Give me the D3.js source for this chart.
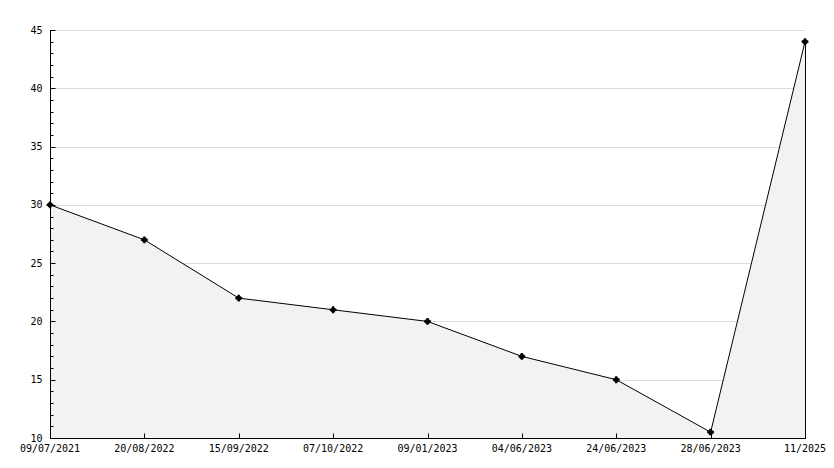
<!DOCTYPE html>
<html>
<head>
<meta charset="utf-8">
<script src="https://cdn.jsdelivr.net/npm/d3@7"></script>
<style>
html,body{margin:0;padding:0;background:#fff;}
svg{display:block;}
text{font-family:"DejaVu Sans Mono",monospace;font-size:10px;fill:#000;}
</style>
</head>
<body>
<svg id="chart" width="834" height="468"></svg>
<script>
const categories = ["09/07/2021","20/08/2022","15/09/2022","07/10/2022","09/01/2023","04/06/2023","24/06/2023","28/06/2023","11/2025"];
const values = [30, 27, 22, 21, 20, 17, 15, 10.5, 44];
const yTicks = [10, 15, 20, 25, 30, 35, 40, 45];
const yMinorTicks = d3.range(10, 46, 1);

(function () {
const svg = d3.select("#chart");
const mLeft = 50, mRight = 805, mTop = 30, mBottom = 438;

const x = d3.scalePoint().domain(categories).range([mLeft, mRight]);
const y = d3.scaleLinear().domain([10, 45]).range([mBottom, mTop]);

// gridlines
svg.append("g").selectAll("line").data(yTicks.filter(d => d > 10)).join("line")
  .attr("x1", mLeft).attr("x2", mRight)
  .attr("y1", d => Math.round(y(d)) + 0.5).attr("y2", d => Math.round(y(d)) + 0.5)
  .attr("stroke", "#dddddd").attr("stroke-width", 1);

const data = categories.map((c, i) => ({c, v: values[i]}));

// area
const area = d3.area().x(d => x(d.c)).y0(y(10)).y1(d => y(d.v));
svg.append("path").datum(data).attr("d", area)
  .attr("fill", "#f2f2f2").attr("stroke", "none");

// vertical edge at last point
const last = data[data.length - 1];
svg.append("line")
  .attr("x1", x(last.c) + 0.5).attr("x2", x(last.c) + 0.5)
  .attr("y1", y(last.v)).attr("y2", y(10))
  .attr("stroke", "#000").attr("stroke-width", 1);

// line
const line = d3.line().x(d => x(d.c)).y(d => y(d.v));
svg.append("path").datum(data).attr("d", line)
  .attr("fill", "none").attr("stroke", "#000").attr("stroke-width", 1);

// markers
const mk = svg.append("g").selectAll("g").data(data).join("g")
  .attr("transform", d => `translate(${x(d.c)},${y(d.v)})`);
mk.append("circle").attr("r", 2.6).attr("fill", "#000");
mk.append("path").attr("d", d3.symbol().type(d3.symbolCross).size(26)).attr("fill", "#000");

// y axis
const yAxis = svg.append("g").attr("transform", `translate(${mLeft + 0.5},0)`);
yAxis.append("line").attr("x1", 0).attr("x2", 0).attr("y1", mTop).attr("y2", mBottom + 0.5)
  .attr("stroke", "#000");
yAxis.selectAll("line.minor").data(yMinorTicks.filter(d => d % 5 !== 0)).join("line")
  .attr("class", "minor")
  .attr("x1", 0).attr("x2", 3)
  .attr("y1", d => Math.round(y(d)) + 0.5).attr("y2", d => Math.round(y(d)) + 0.5)
  .attr("stroke", "#000");
yAxis.selectAll("line.major").data(yTicks).join("line")
  .attr("class", "major")
  .attr("x1", 0).attr("x2", 5)
  .attr("y1", d => Math.round(y(d)) + 0.5).attr("y2", d => Math.round(y(d)) + 0.5)
  .attr("stroke", "#000");
yAxis.selectAll("text").data(yTicks).join("text")
  .attr("x", -8).attr("y", d => y(d)).attr("dy", "0.35em")
  .attr("text-anchor", "end").text(d => d);

// x axis
const xAxis = svg.append("g").attr("transform", `translate(0,${mBottom + 0.5})`);
xAxis.append("line").attr("x1", mLeft).attr("x2", mRight + 1).attr("y1", 0).attr("y2", 0)
  .attr("stroke", "#000");
xAxis.selectAll("line.tick").data(categories).join("line")
  .attr("class", "tick")
  .attr("x1", d => Math.round(x(d)) + 0.5).attr("x2", d => Math.round(x(d)) + 0.5)
  .attr("y1", 0).attr("y2", -5).attr("stroke", "#000");
xAxis.selectAll("text").data(categories).join("text")
  .attr("x", d => x(d)).attr("y", 13)
  .attr("text-anchor", "middle").text(d => d);
})();
</script>
</body>
</html>
